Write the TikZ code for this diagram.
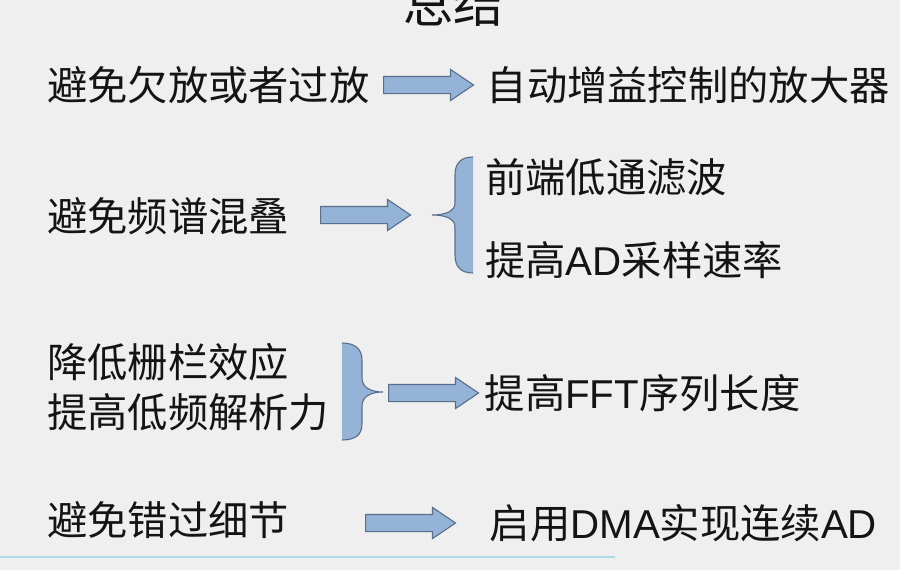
\documentclass[tikz,border=0pt]{standalone}
\usepackage{fontspec}
\setmainfont{Noto Sans CJK SC}
\newfontfamily\lat{Liberation Sans}
\usepackage{xcolor}
\usepackage{tikz}
\usetikzlibrary{shapes.arrows, positioning}

\definecolor{slidebg}{RGB}{239,239,239}
\definecolor{arrowfill}{RGB}{149,179,215}
\definecolor{arrowline}{RGB}{88,110,140}
\definecolor{rulecol}{RGB}{175,218,232}
\definecolor{inkcol}{RGB}{20,20,20}

\begin{document}
\begin{tikzpicture}[
    x=1pt, y=-1pt,
    item/.style={anchor=west, inner sep=0pt, text=inkcol, font=\fontsize{40.3}{50}\selectfont},
    heading/.style={inner sep=0pt, text=inkcol, font=\fontsize{50}{60}\selectfont},
    fatarrow/.style={single arrow, draw=arrowline, fill=arrowfill, line width=1.1pt, inner sep=8pt, minimum height=90pt, single arrow head extend=7pt, single arrow tip angle=68},
    bracefill/.style={fill=arrowfill},
    braceline/.style={draw=arrowline, line width=1.1pt}
]
    \fill[slidebg] (0,0) rectangle (900,570);
    \useasboundingbox (0,0) rectangle (900,570);

    \node[heading] (title) at (453,3) {总结};

    % row 1
    \node[item] (underover) at (47,85) {避免欠放或者过放};
    \node[fatarrow, anchor=west] (agcarrow) at (383,85) {};
    \node[item, right=12pt of agcarrow] (agc) {自动增益控制的放大器};

    % row 2
    \node[item] (alias) at (47,216) {避免频谱混叠};
    \node[fatarrow, anchor=west] (aliasarrow) at (320,215) {};
    \fill[bracefill] (473,157) .. controls (461,157) and (455,163) .. (455,175) -- (455,203)
        .. controls (455,211) and (446,215) .. (432,215)
        .. controls (446,215) and (455,219) .. (455,227) -- (455,255)
        .. controls (455,267) and (461,273) .. (473,273) -- cycle;
    \draw[braceline] (473,157) .. controls (461,157) and (455,163) .. (455,175) -- (455,203)
        .. controls (455,211) and (446,215) .. (432,215)
        .. controls (446,215) and (455,219) .. (455,227) -- (455,255)
        .. controls (455,267) and (461,273) .. (473,273);
    \node[item] (lowpass) at (485,177) {前端低通滤波};
    \node[item] (fastad) at (485,260) {提高{\lat AD}采样速率};

    % row 3
    \node[item, align=left] (fence) at (47,387) {降低栅栏效应\\提高低频解析力};
    \fill[bracefill] (342,343) .. controls (355,343) and (362,349) .. (362,360) -- (362,378)
        .. controls (362,387) and (370,392) .. (383,392)
        .. controls (370,392) and (362,397) .. (362,406) -- (362,424)
        .. controls (362,435) and (355,440) .. (342,440) -- cycle;
    \draw[braceline] (342,343) .. controls (355,343) and (362,349) .. (362,360) -- (362,378)
        .. controls (362,387) and (370,392) .. (383,392)
        .. controls (370,392) and (362,397) .. (362,406) -- (362,424)
        .. controls (362,435) and (355,440) .. (342,440);
    \node[fatarrow, anchor=west] (fftarrow) at (388,393) {};
    \node[item, right=5pt of fftarrow] (fftlen) {提高{\lat FFT}序列长度};

    % row 4
    \node[item] (detail) at (47,520) {避免错过细节};
    \node[fatarrow, anchor=west] (dmaarrow) at (365,523) {};
    \node[item, right=33pt of dmaarrow] (dma) {启用{\lat DMA}实现连续{\lat AD}};

    \draw[rulecol, line width=2pt] (0,557) -- (615,557);
\end{tikzpicture}
\end{document}
